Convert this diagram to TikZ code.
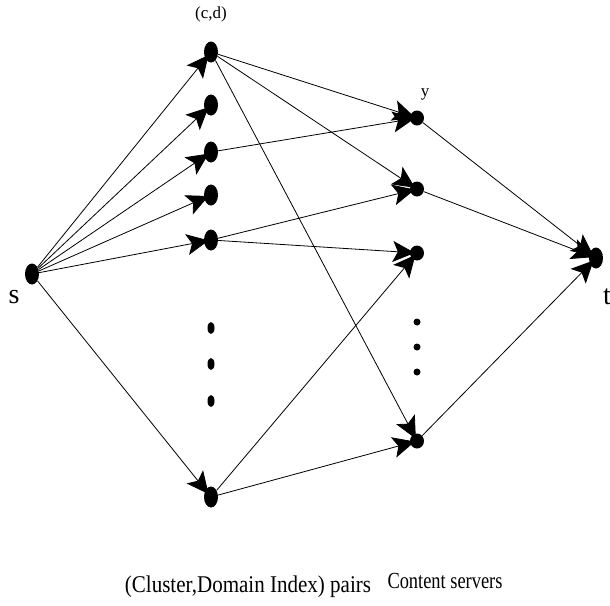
\documentclass[tikz,border=0pt]{standalone}
\usepackage{fontspec}
\setmainfont{Liberation Serif}
\usetikzlibrary{arrows.meta,shapes.geometric}
\begin{document}
\begin{tikzpicture}[x=1pt,y=-1pt,
  bigv/.style={ellipse,fill=black,inner sep=0pt,minimum width=14pt,minimum height=21pt},
  smallv/.style={ellipse,fill=black,inner sep=0pt,minimum width=14pt,minimum height=15pt},
  ldot/.style={ellipse,fill=black,inner sep=0pt,minimum width=7pt,minimum height=12pt},
  rdot/.style={circle,fill=black,inner sep=0pt,minimum size=7pt},
  flow/.style={line width=0.8pt,shorten >=-5pt,-{Stealth[length=22pt,width=21pt,inset=5pt]}},
  lbl/.style={inner sep=0pt}]
\useasboundingbox (0,0) rectangle (610,605);
% source and sink
\node[bigv] (s) at (32,274) {};
\node[bigv] (t) at (596,258) {};
% (cluster, domain) column
\node[bigv] (l1) at (211,52) {};
\node[bigv] (l2) at (211,105) {};
\node[bigv] (l3) at (211,152) {};
\node[bigv] (l4) at (211,195) {};
\node[bigv] (l5) at (211,240) {};
\node[bigv] (l6) at (211,497) {};
\node[ldot] (ld1) at (211,328) {};
\node[ldot] (ld2) at (211,364) {};
\node[ldot] (ld3) at (211,401) {};
% content server column
\node[smallv] (r1) at (417,118) {};
\node[smallv] (r2) at (417,189) {};
\node[smallv] (r3) at (417,253) {};
\node[smallv] (r4) at (417,441) {};
\node[rdot] (rd1) at (417,322) {};
\node[rdot] (rd2) at (417,347) {};
\node[rdot] (rd3) at (417,372) {};
% labels
\node[lbl,font=\fontsize{17}{19}\selectfont] (cd) at (211,14) {(c,d)};
\node[lbl,font=\fontsize{17}{19}\selectfont] (ylab) at (425,94) {y};
\node[lbl,font=\fontsize{28}{30}\selectfont] (slab) at (14,297) {s};
\node[lbl,font=\fontsize{28}{30}\selectfont,anchor=west] (tlab) at (603,297) {t};
\node[lbl,font=\fontsize{24}{26}\selectfont] (pairs) at (248,587) {\scalebox{0.876}[1]{(Cluster,Domain Index) pairs}};
\node[lbl,font=\fontsize{23}{25}\selectfont] (cs) at (445,581) {\scalebox{0.8}[1]{Content servers}};
% edges
\foreach \n in {l1,l2,l3,l4,l5,l6} \draw[flow] (s) -- (\n);
\draw[flow] (l1) -- (r1);
\draw[flow] (l1) -- (r2);
\draw[flow] (l1) -- (r4);
\draw[flow] (l3) -- (r1);
\draw[flow] (l5) -- (r2);
\draw[flow] (l5) -- (r3);
\draw[flow] (l6) -- (r3);
\draw[flow] (l6) -- (r4);
\draw[flow] (r1) -- (t);
\draw[flow] (r2) -- (t);
\draw[flow] (r4) -- (t);
\end{tikzpicture}
\end{document}
